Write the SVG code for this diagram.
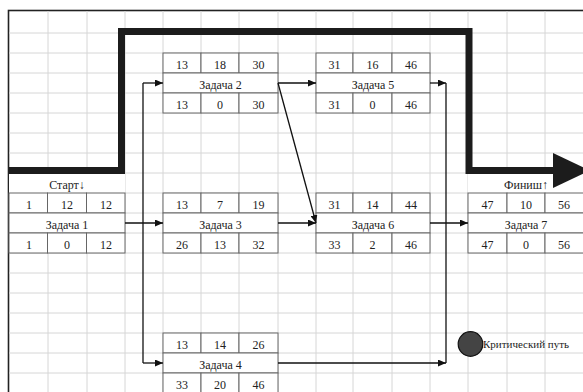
<svg xmlns="http://www.w3.org/2000/svg" width="583" height="392" viewBox="0 0 583 392">
<style>
.g{stroke:#d6d6d6;stroke-width:1}
.cell{fill:#fff;stroke:#666;stroke-width:1}
.t{font-family:'Liberation Serif','DejaVu Serif','Times New Roman',serif;font-size:12px;fill:#222;text-anchor:middle}
.c{stroke:#111;stroke-width:1.3;fill:none}
.a{marker-end:url(#ah)}
</style>
<defs>
<marker id="ah" markerUnits="userSpaceOnUse" markerWidth="8" markerHeight="7" refX="8" refY="3.5" orient="auto">
<path d="M0,0 L8,3.5 L0,7 z" fill="#111"/>
</marker>
</defs>
<rect x="0" y="0" width="583" height="392" fill="#fff"/>
<rect x="8.5" y="10.5" width="600" height="400" fill="#fff" stroke="#222" stroke-width="1.6"/>
<g id="grid">
<path class="g" d="M48,11V392M87,11V392M125,11V392M163,11V392M201,11V392M239,11V392M278,11V392M316,11V392M353,11V392M392,11V392M430,11V392M468,11V392M507,11V392M545,11V392"/>
<path class="g" d="M9,33H583M9,53H583M9,73H583M9,93H583M9,113H583M9,133H583M9,153H583M9,173H583M9,193H583M9,213H583M9,233H583M9,253H583M9,273H583M9,293H583M9,313H583M9,333H583M9,353H583M9,373H583"/>
</g>
<g id="start">
<rect x="9" y="174" width="116" height="19" fill="#fff"/>
<text class="t" x="67" y="189">Старт↓</text>
</g>
<g id="finish">
<rect x="468" y="174" width="115" height="19" fill="#fff"/>
<text class="t" x="526" y="189">Финиш↑</text>
</g>
<g id="critical-path">
<path d="M9,170.5H121.5V31.5H469V170.5H556" fill="none" stroke="#1c1c1c" stroke-width="7"/>
<polygon points="553,153 590,170.5 553,188" fill="#1c1c1c"/>
</g>
<g id="task1">
<rect class="cell" x="9" y="193" width="38.5" height="20"/><rect class="cell" x="47.5" y="193" width="39" height="20"/><rect class="cell" x="86.5" y="193" width="38.5" height="20"/>
<rect class="cell" x="9" y="213" width="116" height="20"/>
<rect class="cell" x="9" y="233" width="38.5" height="20"/><rect class="cell" x="47.5" y="233" width="39" height="20"/><rect class="cell" x="86.5" y="233" width="38.5" height="20"/>
<text class="t" x="29" y="208.5">1</text><text class="t" x="67" y="208.5">12</text><text class="t" x="106" y="208.5">12</text>
<text class="t" x="67" y="228.5">Задача 1</text>
<text class="t" x="29" y="248.5">1</text><text class="t" x="67" y="248.5">0</text><text class="t" x="106" y="248.5">12</text>
</g>
<g id="task2">
<rect class="cell" x="163" y="53" width="38" height="20"/><rect class="cell" x="201" y="53" width="38" height="20"/><rect class="cell" x="239" y="53" width="39" height="20"/>
<rect class="cell" x="163" y="73" width="115" height="20"/>
<rect class="cell" x="163" y="93" width="38" height="20"/><rect class="cell" x="201" y="93" width="38" height="20"/><rect class="cell" x="239" y="93" width="39" height="20"/>
<text class="t" x="182" y="68.5">13</text><text class="t" x="220" y="68.5">18</text><text class="t" x="258.5" y="68.5">30</text>
<text class="t" x="220.5" y="88.5">Задача 2</text>
<text class="t" x="182" y="108.5">13</text><text class="t" x="220" y="108.5">0</text><text class="t" x="258.5" y="108.5">30</text>
</g>
<g id="task3">
<rect class="cell" x="163" y="193" width="38" height="20"/><rect class="cell" x="201" y="193" width="38" height="20"/><rect class="cell" x="239" y="193" width="39" height="20"/>
<rect class="cell" x="163" y="213" width="115" height="20"/>
<rect class="cell" x="163" y="233" width="38" height="20"/><rect class="cell" x="201" y="233" width="38" height="20"/><rect class="cell" x="239" y="233" width="39" height="20"/>
<text class="t" x="182" y="208.5">13</text><text class="t" x="220" y="208.5">7</text><text class="t" x="258.5" y="208.5">19</text>
<text class="t" x="220.5" y="228.5">Задача 3</text>
<text class="t" x="182" y="248.5">26</text><text class="t" x="220" y="248.5">13</text><text class="t" x="258.5" y="248.5">32</text>
</g>
<g id="task4">
<rect class="cell" x="163" y="333" width="38" height="20"/><rect class="cell" x="201" y="333" width="38" height="20"/><rect class="cell" x="239" y="333" width="39" height="20"/>
<rect class="cell" x="163" y="353" width="115" height="20"/>
<rect class="cell" x="163" y="373" width="38" height="20"/><rect class="cell" x="201" y="373" width="38" height="20"/><rect class="cell" x="239" y="373" width="39" height="20"/>
<text class="t" x="182" y="348.5">13</text><text class="t" x="220" y="348.5">14</text><text class="t" x="258.5" y="348.5">26</text>
<text class="t" x="220.5" y="368.5">Задача 4</text>
<text class="t" x="182" y="388.5">33</text><text class="t" x="220" y="388.5">20</text><text class="t" x="258.5" y="388.5">46</text>
</g>
<g id="task5">
<rect class="cell" x="316" y="53" width="37" height="20"/><rect class="cell" x="353" y="53" width="39" height="20"/><rect class="cell" x="392" y="53" width="38" height="20"/>
<rect class="cell" x="316" y="73" width="114" height="20"/>
<rect class="cell" x="316" y="93" width="37" height="20"/><rect class="cell" x="353" y="93" width="39" height="20"/><rect class="cell" x="392" y="93" width="38" height="20"/>
<text class="t" x="334.5" y="68.5">31</text><text class="t" x="372.5" y="68.5">16</text><text class="t" x="411" y="68.5">46</text>
<text class="t" x="373" y="88.5">Задача 5</text>
<text class="t" x="334.5" y="108.5">31</text><text class="t" x="372.5" y="108.5">0</text><text class="t" x="411" y="108.5">46</text>
</g>
<g id="task6">
<rect class="cell" x="316" y="193" width="37" height="20"/><rect class="cell" x="353" y="193" width="39" height="20"/><rect class="cell" x="392" y="193" width="38" height="20"/>
<rect class="cell" x="316" y="213" width="114" height="20"/>
<rect class="cell" x="316" y="233" width="37" height="20"/><rect class="cell" x="353" y="233" width="39" height="20"/><rect class="cell" x="392" y="233" width="38" height="20"/>
<text class="t" x="334.5" y="208.5">31</text><text class="t" x="372.5" y="208.5">14</text><text class="t" x="411" y="208.5">44</text>
<text class="t" x="373" y="228.5">Задача 6</text>
<text class="t" x="334.5" y="248.5">33</text><text class="t" x="372.5" y="248.5">2</text><text class="t" x="411" y="248.5">46</text>
</g>
<g id="task7">
<rect class="cell" x="468" y="193" width="39" height="20"/><rect class="cell" x="507" y="193" width="38" height="20"/><rect class="cell" x="545" y="193" width="40" height="20"/>
<rect class="cell" x="468" y="213" width="117" height="20"/>
<rect class="cell" x="468" y="233" width="39" height="20"/><rect class="cell" x="507" y="233" width="38" height="20"/><rect class="cell" x="545" y="233" width="40" height="20"/>
<text class="t" x="487.5" y="208.5">47</text><text class="t" x="526" y="208.5">10</text><text class="t" x="564" y="208.5">56</text>
<text class="t" x="526" y="228.5">Задача 7</text>
<text class="t" x="487.5" y="248.5">47</text><text class="t" x="526" y="248.5">0</text><text class="t" x="564" y="248.5">56</text>
</g>
<g id="connectors">
<path class="c a" d="M125,223H163"/>
<path class="c" d="M143,223V83"/>
<path class="c a" d="M143,83H163"/>
<path class="c" d="M143,223V363"/>
<path class="c a" d="M143,363H163"/>
<path class="c a" d="M278,83H316"/>
<path class="c a" d="M278,83L316,223"/>
<path class="c a" d="M278,223H316"/>
<path class="c a" d="M430,83H446"/>
<path class="c" d="M446,83V363"/>
<path class="c a" d="M430,223H468"/>
<path class="c a" d="M278,363H446"/>
</g>
<g id="legend">
<circle cx="470.5" cy="344" r="12.3" fill="#444" stroke="#111" stroke-width="1.2"/>
<text x="483" y="347.5" font-family="'Liberation Serif','DejaVu Serif',serif" font-size="11" fill="#222">Критический путь</text>
</g>
</svg>
